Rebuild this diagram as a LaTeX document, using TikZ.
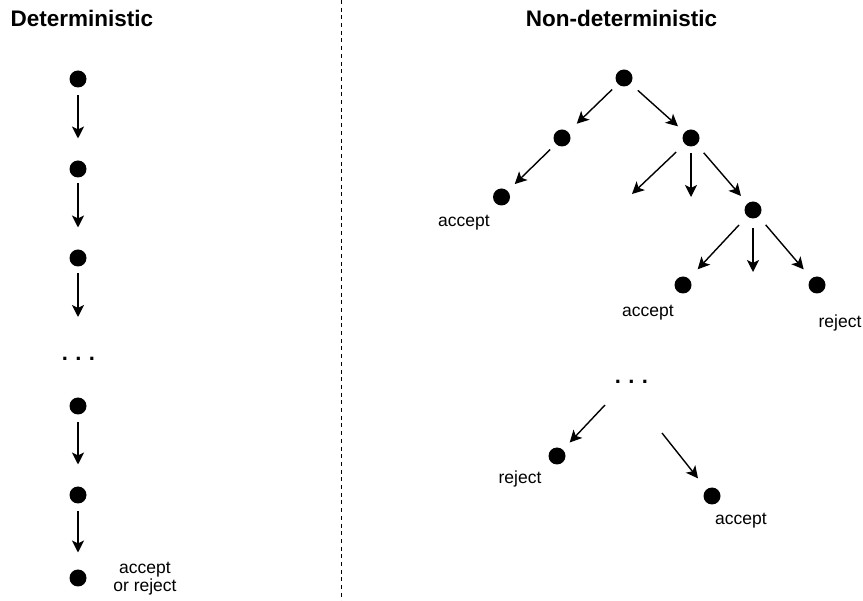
\documentclass[tikz,border=0pt]{standalone}
\usepackage{fontspec}
\setmainfont{Liberation Sans}
\usetikzlibrary{arrows.meta}

\tikzset{
  state/.style={circle, fill=black, inner sep=0pt, outer sep=0pt, minimum size=17pt},
  flow/.style={line width=1.4pt, -{Stealth[length=12pt, width=12pt, inset=3pt]}},
  title/.style={font=\fontsize{22.5}{26}\selectfont\bfseries, inner sep=0pt},
  lbl/.style={font=\fontsize{17.5}{18.5}\selectfont, inner sep=0pt, align=center},
  ellip/.style={font=\fontsize{22}{24}\selectfont\bfseries, inner sep=0pt},
}

\begin{document}
\begin{tikzpicture}[x=1pt, y=-1pt]
  \useasboundingbox (0,0) rectangle (863,601);

  % column separator
  \draw[line width=1pt, dash pattern=on 4pt off 3.7pt] (341,0) -- (341,601);

  % headings
  \node[title, anchor=base west] (tdet) at (10.5,26.5) {Deterministic};
  \node[title, anchor=base] (tnon) at (621.5,26.5) {Non-deterministic};

  % ---- deterministic chain ----
  \node[state] (d1) at (78,79) {};
  \node[state] (d2) at (78,169) {};
  \node[state] (d3) at (78,258) {};
  \coordinate (d3end) at (78,317);
  \node[ellip, anchor=base] (ddots) at (78.5,361) {.\hspace{7.4pt}.\hspace{7.4pt}.};
  \node[state] (d4) at (78,406) {};
  \node[state] (d5) at (78,495) {};
  \node[state] (d6) at (78,578) {};
  \node[lbl, anchor=base] (dres) at (145,592) {accept\\or reject};

  \draw[flow, shorten <=8pt, shorten >=22pt] (d1) -- (d2);
  \draw[flow, shorten <=6pt, shorten >=22pt] (d2) -- (d3);
  \draw[flow, shorten <=7pt] (d3) -- (d3end);
  \draw[flow, shorten <=8pt, shorten >=22pt] (d4) -- (d5);
  \draw[flow, shorten <=8pt, shorten >=17pt] (d5) -- (d6);

  % ---- non-deterministic tree ----
  \node[state] (r)  at (624,78) {};
  \node[state] (a)  at (562,138) {};
  \node[state] (b)  at (691,138) {};
  \node[state] (a1) at (501.5,197) {};
  \node[lbl, anchor=base] (a1l) at (464,227) {accept};
  \coordinate (b1) at (632,194);
  \coordinate (b2) at (691,197);
  \node[state] (c)  at (753,210) {};
  \node[state] (c1) at (683,285) {};
  \node[state] (c3) at (817,285) {};
  \coordinate (c2) at (753,272);
  \node[lbl, anchor=base] (c1l) at (648,317) {accept};
  \node[lbl, anchor=base] (c3l) at (840,328) {reject};

  \node[ellip, anchor=base] (tdots) at (631.5,384) {.\hspace{7.4pt}.\hspace{7.4pt}.};
  \coordinate (e0) at (605,405);
  \coordinate (f0) at (662,433);
  \node[state] (e) at (557,456) {};
  \node[state] (f) at (712,496) {};
  \node[lbl, anchor=base] (el) at (520,484) {reject};
  \node[lbl, anchor=base] (fl) at (741,525) {accept};

  \draw[flow, shorten <=8pt, shorten >=12pt] (r) -- (a);
  \draw[flow, shorten <=10pt, shorten >=9pt] (r) -- (b);
  \draw[flow, shorten <=8pt, shorten >=10pt] (a) -- (a1);
  \draw[flow, shorten <=12pt] (b) -- (b1);
  \draw[flow, shorten <=7pt] (b) -- (b2);
  \draw[flow, shorten <=11pt, shorten >=10pt] (b) -- (c);
  \draw[flow, shorten <=12pt, shorten >=13pt] (c) -- (c1);
  \draw[flow, shorten <=10pt] (c) -- (c2);
  \draw[flow, shorten <=11pt, shorten >=12pt] (c) -- (c3);
  \draw[flow, shorten >=10pt] (e0) -- (e);
  \draw[flow, shorten >=14pt] (f0) -- (f);
\end{tikzpicture}
\end{document}
